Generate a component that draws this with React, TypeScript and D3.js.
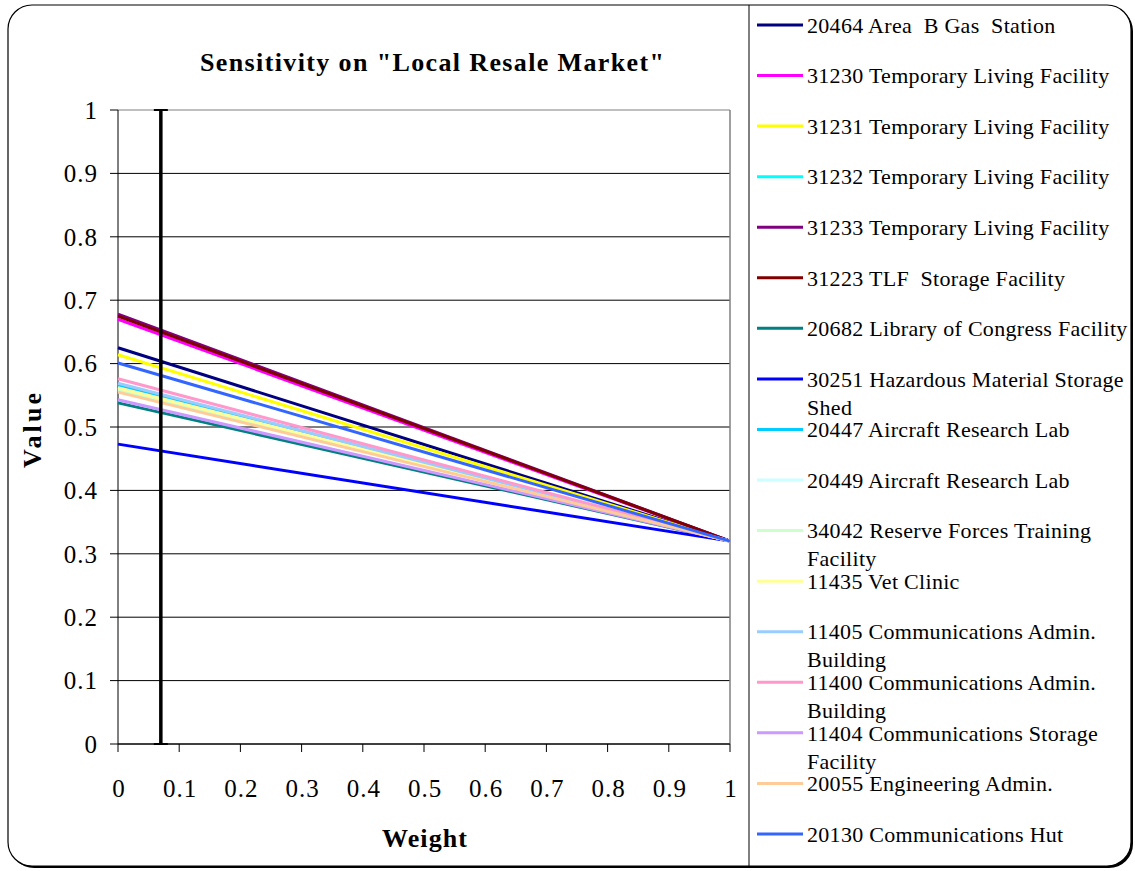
import React from "react";
import * as d3 from "d3";

const seriesNames: string[][] = [
  ["20464 Area  B Gas  Station"],
  ["31230 Temporary Living Facility"],
  ["31231 Temporary Living Facility"],
  ["31232 Temporary Living Facility"],
  ["31233 Temporary Living Facility"],
  ["31223 TLF  Storage Facility"],
  ["20682 Library of Congress Facility"],
  ["30251 Hazardous Material Storage", "Shed"],
  ["20447 Aircraft Research Lab"],
  ["20449 Aircraft Research Lab"],
  ["34042 Reserve Forces Training", "Facility"],
  ["11435 Vet Clinic"],
  ["11405 Communications Admin.", "Building"],
  ["11400 Communications Admin.", "Building"],
  ["11404 Communications Storage", "Facility"],
  ["20055 Engineering Admin."],
  ["20130 Communications Hut"],
];
const seriesColors = [
  "#000080", "#FF00FF", "#FFFF00", "#00FFFF", "#800080", "#800000", "#008080", "#0000FF",
  "#00CCFF", "#CCFFFF", "#CCFFCC", "#FFFF99", "#99CCFF", "#FF99CC", "#CC99FF", "#FFCC99", "#3366FF",
];
// value at weight 0
const startValues = [0.625, 0.670, 0.614, 0.563, 0.678, 0.675, 0.538, 0.473, 0.566, 0.560, 0.558, 0.562, 0.569, 0.576, 0.543, 0.555, 0.601];
// value at weight 1
const endValues = [0.32, 0.32, 0.32, 0.32, 0.32, 0.32, 0.32, 0.32, 0.32, 0.32, 0.32, 0.32, 0.32, 0.32, 0.32, 0.32, 0.32];
const weights = [0, 1];
const currentWeight = 0.07;
const xTicks = [0, 0.1, 0.2, 0.3, 0.4, 0.5, 0.6, 0.7, 0.8, 0.9, 1];
const yTicks = [0, 0.1, 0.2, 0.3, 0.4, 0.5, 0.6, 0.7, 0.8, 0.9, 1];

export default function App() {
  const W = 1135, H = 871;
  const x = d3.scaleLinear().domain([0, 1]).range([118, 730]);
  const y = d3.scaleLinear().domain([0, 1]).range([744, 110]);
  const line = d3.line<[number, number]>().x(d => x(d[0])).y(d => y(d[1]));
  const font = "'Liberation Serif', 'Times New Roman', serif";
  const legendY0 = 25, legendStep = 50.56;
  return (
    <svg width={W} height={H} style={{ position: "absolute", left: 0, top: 0 }} fontFamily={font}>
      <rect x={10} y={7} width={1123} height={861} rx={24} fill="#000" />
      <rect x={8} y={5} width={1123} height={861} rx={24} fill="#fff" stroke="#000" strokeWidth={1.2} />
      {/* gridlines */}
      {yTicks.map(t => (
        <line key={"g" + t} x1={x(0)} x2={x(1)} y1={y(t)} y2={y(t)} stroke={t === 1 ? "#808080" : "#000"} strokeWidth={1} />
      ))}
      <line x1={x(1)} x2={x(1)} y1={y(1)} y2={y(0)} stroke="#808080" strokeWidth={1.5} />
      {/* axes */}
      <line x1={x(0)} x2={x(0)} y1={y(1)} y2={y(0)} stroke="#000" strokeWidth={1} />
      <line x1={x(0)} x2={x(1)} y1={y(0)} y2={y(0)} stroke="#000" strokeWidth={1} />
      {yTicks.map(t => (
        <g key={"yt" + t}>
          <line x1={x(0) - 8} x2={x(0)} y1={y(t)} y2={y(t)} stroke="#000" />
          <text x={98} y={y(t)} dy="0.35em" textAnchor="end" fontSize={25} letterSpacing={1}>{String(t)}</text>
        </g>
      ))}
      {xTicks.map(t => (
        <g key={"xt" + t}>
          <line x1={x(t)} x2={x(t)} y1={y(0)} y2={y(0) + 8} stroke="#000" />
          <text x={x(t) + 1} y={797} textAnchor="middle" fontSize={25} letterSpacing={1}>{String(t)}</text>
        </g>
      ))}
      {/* series */}
      {startValues.map((v, i) => (
        <path key={"s" + i}
          d={line(weights.map((w, k) => [w, k === 0 ? v : endValues[i]]) as [number, number][]) || ""}
          fill="none" stroke={seriesColors[i]} strokeWidth={3} />
      ))}
      {/* current weight marker */}
      <line x1={x(currentWeight)} x2={x(currentWeight)} y1={y(1)} y2={y(0)} stroke="#000" strokeWidth={3.5} />
      <line x1={x(currentWeight) - 7} x2={x(currentWeight) + 7} y1={y(1)} y2={y(1)} stroke="#000" strokeWidth={2} />
      <line x1={x(currentWeight) - 7} x2={x(currentWeight) + 7} y1={y(0)} y2={y(0)} stroke="#000" strokeWidth={2} />
      {/* titles */}
      <text x={200} y={71} fontSize={26} fontWeight="bold" textLength={464} lengthAdjust="spacing">Sensitivity on "Local Resale Market"</text>
      <text x={382} y={847} fontSize={26} fontWeight="bold" textLength={85} lengthAdjust="spacing">Weight</text>
      <text transform="translate(41,468) rotate(-90)" fontSize={26} fontWeight="bold" textLength={75} lengthAdjust="spacing">Value</text>
      {/* legend */}
      <line x1={749} x2={749} y1={5} y2={866} stroke="#000" strokeWidth={1} />
      {seriesNames.map((lines, i) => {
        const cy = legendY0 + i * legendStep;
        return (
          <g key={"l" + i}>
            <line x1={757} x2={803} y1={cy} y2={cy} stroke={seriesColors[i]} strokeWidth={3} />
            {lines.map((t, k) => (
              <text key={k} x={807} y={cy + k * 28} dy="0.35em" fontSize={22} letterSpacing={0.3} style={{ whiteSpace: "pre" }}>{t}</text>
            ))}
          </g>
        );
      })}
    </svg>
  );
}
